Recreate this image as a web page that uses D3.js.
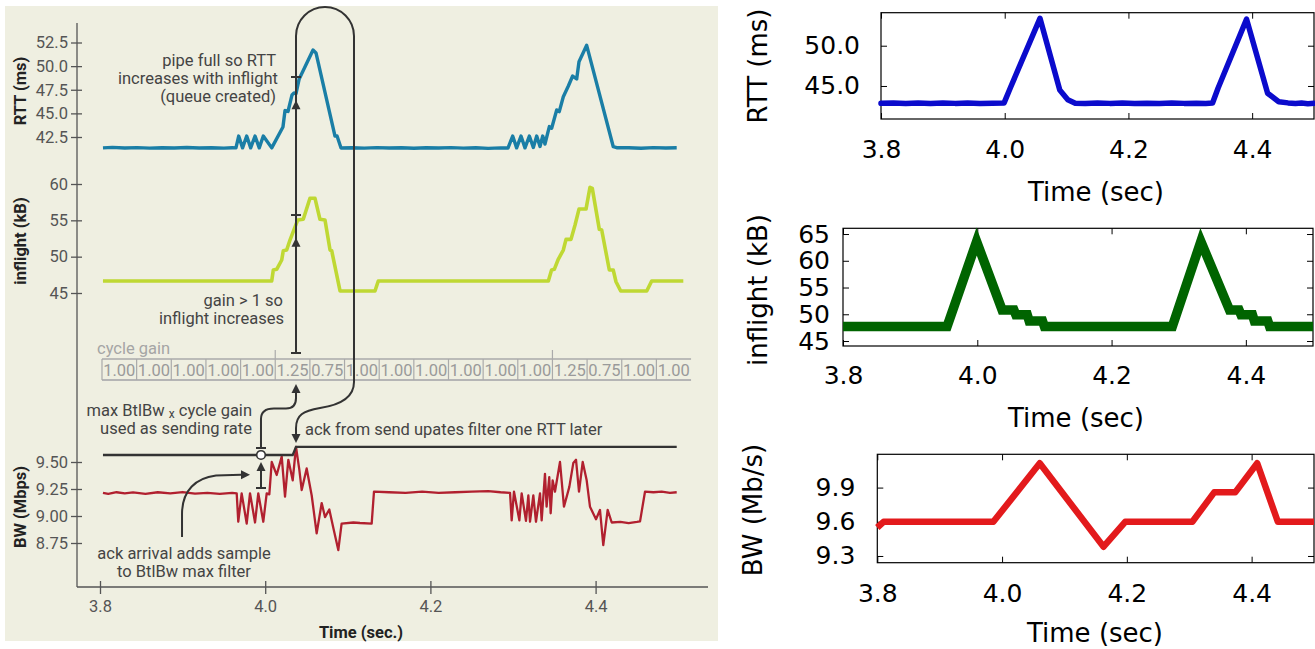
<!DOCTYPE html>
<html>
<head>
<meta charset="utf-8">
<script src="https://cdn.jsdelivr.net/npm/d3@7/dist/d3.min.js"></script>
<style>
html,body{margin:0;padding:0;background:#fff;}
svg{display:block;}
</style>
</head>
<body>
<svg id="chart" width="1315" height="649"></svg>
<script>
// ================= DATA =================
const timeTicks = [3.8, 4.0, 4.2, 4.4];

// ---- left (annotated) figure ----
const rttTicksL = [42.5, 45.0, 47.5, 50.0, 52.5];
const inflightTicksL = [45, 50, 55, 60];
const bwTicksL = [8.75, 9.00, 9.25, 9.50];

const rttL = [[3.8036,41.35],[3.815,41.40],[3.83,41.33],[3.845,41.38],[3.86,41.32],[3.875,41.37],[3.89,41.34],[3.905,41.39],[3.92,41.33],[3.935,41.37],[3.95,41.32],[3.96,41.36],
[3.9646,41.35],[3.9679,42.6],[3.9726,41.35],[3.9776,42.6],[3.9824,41.35],[3.9877,42.6],[3.9928,41.35],[3.9977,42.6],[4.0079,41.35],
[4.0215,43.56],[4.024,45.3],[4.0276,45.2],[4.0324,46.94],[4.0349,47.15],[4.0373,47.1],[4.041,48.6],[4.0579,51.7],[4.0615,51.4],[4.0845,42.6],[4.087,42.6],[4.0918,41.34],
[4.105,41.37],[4.12,41.32],[4.135,41.38],[4.15,41.33],[4.165,41.37],[4.18,41.31],[4.195,41.36],[4.21,41.33],[4.225,41.38],[4.24,41.32],[4.255,41.36],[4.27,41.30],[4.285,41.35],[4.2939,41.33],
[4.2996,42.6],[4.3044,41.35],[4.3097,42.6],[4.3145,41.35],[4.3198,42.6],[4.3246,41.4],[4.3287,42.6],[4.3327,41.5],[4.336,42.6],[4.3387,41.76],
[4.344,43.6],[4.3468,43.42],[4.3529,45.36],[4.356,45.18],[4.3609,46.76],[4.367,47.9],[4.3722,48.95],[4.3771,48.64],[4.3799,50.47],[4.3892,52.2],[4.4214,41.47],[4.4255,41.37],
[4.44,41.36],[4.455,41.31],[4.47,41.38],[4.485,41.33],[4.4982,41.36]];

const inflightL = [[3.8036,46.65],[4.0079,46.65],[4.0098,48.16],[4.0139,48.26],[4.02,49.54],[4.0219,50.82],[4.026,50.91],[4.03,52.29],[4.0393,55.04],[4.0461,55.14],[4.0542,58.03],[4.0603,58.03],[4.0663,55.14],[4.0724,55.04],[4.0785,50.91],[4.0805,50.82],[4.0906,45.28],[4.1329,45.28],[4.1369,46.65],[4.3428,46.65],[4.3467,48.16],[4.35,48.26],[4.3548,49.64],[4.3609,50.91],[4.3642,52.38],[4.3702,52.38],[4.3751,54.35],[4.3799,56.55],[4.3884,56.55],[4.3932,59.54],[4.396,59.4],[4.4045,53.76],[4.4074,53.67],[4.4166,48.16],[4.4214,48.16],[4.4247,46.55],[4.4304,45.28],[4.4619,45.28],[4.4679,46.65],[4.5062,46.65]];

const bwL = [[3.8036,9.215],[3.81,9.205],[3.82,9.22],[3.83,9.21],[3.84,9.218],[3.855,9.205],[3.87,9.22],[3.885,9.21],[3.9,9.222],[3.915,9.208],[3.93,9.215],[3.945,9.205],[3.96,9.215],[3.9655,9.21],
[3.9674,8.947],[3.9715,9.21],[3.9776,8.93],[3.9816,9.21],[3.9877,8.94],[3.9916,9.21],[3.9977,8.947],[4.0018,9.21],[4.005,9.2],
[4.0079,9.5],[4.0139,9.38],[4.02,9.55],[4.024,9.18],[4.028,9.52],[4.0333,9.33],[4.0373,9.64],[4.0413,9.43],[4.0442,9.24],[4.0502,9.44],[4.0563,9.19],[4.0623,8.84],[4.0684,9.12],[4.0724,8.99],[4.0776,9.06],[4.0825,8.89],[4.0885,8.685],[4.0925,8.93],[4.1067,8.94],[4.1148,8.935],[4.1289,8.93],[4.1317,9.225],
[4.15,9.22],[4.17,9.215],[4.19,9.225],[4.21,9.215],[4.23,9.22],[4.25,9.225],[4.27,9.23],[4.285,9.22],[4.2964,9.215],
[4.2984,8.96],[4.3012,9.225],[4.3077,8.96],[4.3105,9.21],[4.3157,8.955],[4.3186,9.19],[4.3206,8.947],[4.3246,9.19],[4.3278,8.947],[4.3327,9.21],[4.3347,8.96],[4.3387,9.39],[4.3407,9.086],[4.3439,9.36],[4.3456,9.025],[4.348,9.33],[4.3508,9.225],[4.3569,9.5],[4.3617,9.086],[4.3682,9.27],[4.373,9.49],[4.3763,9.52],[4.3799,9.225],[4.3844,9.5],[4.3892,9.33],[4.3932,9.086],[4.4005,8.97],[4.4053,9.056],[4.4093,8.73],[4.4146,9.056],[4.4195,8.94],[4.43,8.945],[4.44,8.935],[4.45,8.945],[4.4538,8.95],[4.4598,9.225],[4.47,9.22],[4.48,9.225],[4.49,9.215],[4.4982,9.22]];

const maxFilterL = [[3.8036,9.565],[4.0333,9.565],[4.0373,9.64],[4.4982,9.64]];

const cycleGains = ["1.00","1.00","1.00","1.00","1.00","1.25","0.75","1.00","1.00","1.00","1.00","1.00","1.00","1.25","0.75","1.00","1.00"];
const cycleStart = 3.8024, cycleLen = 0.04195;

// ---- right (measured) figures ----
const rttTicksR = [45.0, 50.0];
const inflightTicksR = [45, 50, 55, 60, 65];
const bwTicksR = [9.3, 9.6, 9.9];

const rttR = [[3.8,42.85],[3.82,42.9],[3.84,42.82],[3.86,42.88],[3.88,42.83],[3.9,42.9],[3.92,42.84],[3.94,42.88],[3.96,42.82],[3.98,42.87],[3.999,42.9],
[4.009,44.75],[4.057,53.4],[4.089,44.5],[4.102,43.3],[4.114,42.86],
[4.13,42.82],[4.15,42.9],[4.17,42.84],[4.19,42.88],[4.21,42.82],[4.23,42.87],[4.25,42.83],[4.27,42.9],[4.29,42.84],[4.31,42.86],[4.325,42.82],[4.336,42.88],
[4.345,44.75],[4.391,53.3],[4.425,44.1],[4.443,43.05],[4.458,42.9],[4.47,42.82],[4.48,42.88],[4.49,42.8],[4.5,42.85]];

const inflightR = [[3.8,47.7],[3.955,47.7],[3.999,63.6],[4.037,50.8],[4.0545,50.8],[4.0574,49.9],[4.0744,49.9],[4.0773,48.75],[4.0971,48.75],[4.1,47.7],[4.2905,47.7],[4.333,63.6],[4.3757,50.8],[4.3898,50.8],[4.3928,49.9],[4.4098,49.9],[4.4127,48.75],[4.4326,48.75],[4.4354,47.7],[4.5,47.7]];

const bwR = [[3.8,9.55],[3.81,9.6],[3.986,9.6],[4.0604,10.113],[4.1627,9.381],[4.1974,9.6],[4.305,9.6],[4.34,9.858],[4.3737,9.858],[4.409,10.113],[4.442,9.6],[4.5,9.6]];

// ================= DRAW =================
const svg = d3.select('#chart');
const LF = "Roboto, 'Open Sans', sans-serif";
const RF = "'DejaVu Sans', Verdana, sans-serif";

// ---------- Left figure ----------
svg.append('rect').attr('x',5).attr('y',6).attr('width',713).attr('height',635).attr('fill','#efefe1');

const xL = d3.scaleLinear().domain([3.8, 4.5]).range([100, 678.2]);
const yR = d3.scaleLinear().domain([42.5, 52.5]).range([137, 42.5]);
const yI = d3.scaleLinear().domain([45, 60]).range([293, 184]);
const yB = d3.scaleLinear().domain([8.75, 9.5]).range([543, 462]);

const L = svg.append('g');
L.append('line').attr('x1',77).attr('x2',77).attr('y1',23).attr('y2',587).attr('stroke','#555').attr('stroke-width',1.3);
L.append('line').attr('x1',77).attr('x2',708).attr('y1',587).attr('y2',587).attr('stroke','#555').attr('stroke-width',1.3);

function leftAxis(scale, ticks, fmt) {
  const g = L.append('g').attr('transform','translate(82,0)')
    .call(d3.axisLeft(scale).tickValues(ticks).tickFormat(fmt).tickSize(11).tickPadding(3));
  g.select('.domain').remove();
  g.attr('font-family', LF).attr('font-size', 16.5);
  g.selectAll('line').attr('stroke','#555').attr('stroke-width',1.3);
  g.selectAll('text').attr('fill','#555');
}
leftAxis(yR, rttTicksL, d3.format('.1f'));
leftAxis(yI, inflightTicksL, d3.format('d'));
leftAxis(yB, bwTicksL, d3.format('.2f'));

const gx = L.append('g').attr('transform','translate(0,581)')
  .call(d3.axisBottom(xL).tickValues(timeTicks).tickFormat(d3.format('.1f')).tickSize(13).tickPadding(6));
gx.select('.domain').remove();
gx.attr('font-family', LF).attr('font-size', 16.5);
gx.selectAll('line').attr('stroke','#555').attr('stroke-width',1.3);
gx.selectAll('text').attr('fill','#555');

function vTitle(g, text, x, y, size, weight, fill, family) {
  g.append('text').attr('transform',`translate(${x},${y}) rotate(-90)`)
    .attr('text-anchor','middle').attr('dominant-baseline','central')
    .attr('font-family',family).attr('font-size',size).attr('font-weight',weight).attr('fill',fill).text(text);
}
vTitle(L, 'RTT (ms)', 20, 91, 16.5, 'bold', '#222', LF);
vTitle(L, 'inflight (kB)', 20, 241, 16.5, 'bold', '#222', LF);
vTitle(L, 'BW (Mbps)', 20, 507, 16.5, 'bold', '#222', LF);
L.append('text').attr('x',361).attr('y',632).attr('text-anchor','middle').attr('dominant-baseline','central')
  .attr('font-family',LF).attr('font-size',16.5).attr('font-weight','bold').attr('fill','#222').text('Time (sec.)');

// cycle gain box
const boxTop = 359, boxBot = 380;
const cellX = i => xL(cycleStart + i * cycleLen);
L.append('text').attr('x',97).attr('y',348).attr('dominant-baseline','central')
  .attr('font-family',LF).attr('font-size',16.5).attr('fill','#a5a5a5').text('cycle gain');
L.append('line').attr('x1',cellX(0)).attr('x2',cellX(cycleGains.length)).attr('y1',boxTop).attr('y2',boxTop).attr('stroke','#aaa').attr('stroke-width',1.3);
L.append('line').attr('x1',cellX(0)).attr('x2',cellX(cycleGains.length)).attr('y1',boxBot).attr('y2',boxBot).attr('stroke','#b5b5b5').attr('stroke-width',2);
const cells = L.append('g').selectAll('g').data(cycleGains).join('g');
cells.append('line').attr('x1',(d,i)=>cellX(i)).attr('x2',(d,i)=>cellX(i))
  .attr('y1',(d,i)=> d==='1.25' ? 350 : boxTop).attr('y2',boxBot).attr('stroke','#aaa').attr('stroke-width',1.2);
cells.append('text').attr('x',(d,i)=>(cellX(i)+cellX(i+1))/2).attr('y',370)
  .attr('text-anchor','middle').attr('dominant-baseline','central')
  .attr('font-family',LF).attr('font-size',16.5).attr('fill','#9a9a9a').text(d=>d);

// data lines
const lineGen = (xs, ys) => d3.line().x(d=>xs(d[0])).y(d=>ys(d[1]));
L.append('path').datum(rttL).attr('d', lineGen(xL,yR)).attr('fill','none').attr('stroke','#1a7ea6').attr('stroke-width',3.4).attr('stroke-linejoin','round');
L.append('path').datum(inflightL).attr('d', lineGen(xL,yI)).attr('fill','none').attr('stroke','#bfd833').attr('stroke-width',3.6).attr('stroke-linejoin','round');
L.append('path').datum(bwL).attr('d', lineGen(xL,yB)).attr('fill','none').attr('stroke','#b1202f').attr('stroke-width',2.3).attr('stroke-linejoin','round');
L.append('path').datum(maxFilterL).attr('d', lineGen(xL,yB)).attr('fill','none').attr('stroke','#333').attr('stroke-width',2.3);

// annotations
const A = svg.append('g');
const ink = '#333';
const ax = xL(4.0373), lx = xL(4.1075), cx = xL(3.9949), ackX = xL(3.8993);
function bar(x, y) { A.append('line').attr('x1',x-5).attr('x2',x+5).attr('y1',y).attr('y2',y).attr('stroke',ink).attr('stroke-width',2); }
function head(x, y, dir) {
  const l = 9, w = 4.5;
  let p;
  if (dir==='up') p = [[x,y],[x-w,y+l],[x+w,y+l]];
  else if (dir==='down') p = [[x,y],[x-w,y-l],[x+w,y-l]];
  else p = [[x,y],[x-l,y-w],[x-l,y+w]];
  A.append('path').attr('d','M'+p.map(q=>q.join(',')).join('L')+'Z').attr('fill',ink);
}
const pathS = d => A.append('path').attr('d',d).attr('fill','none').attr('stroke',ink).attr('stroke-width',2);

const yBarRtt = yR(48.85), yTipRtt = yR(46.4), yBarInf = yI(55.73), yTipInf = yI(52.6), yBarGain = boxTop - 6;
const r = (lx - ax) / 2, arcTop = 7, arcY = arcTop + r;
pathS(`M${ax},${yBarGain} L${ax},${arcY} A${r},${r} 0 0 1 ${lx},${arcY} L${lx},${boxBot+2} C${lx},398 340,405 320,408 C303,411 ${ax},415 ${ax},428 L${ax},436`);
head(ax, 443, 'down');
bar(ax, yBarRtt); bar(ax, yBarInf); bar(ax, yBarGain);
head(ax, yTipRtt, 'up'); head(ax, yTipInf, 'up');

const yMax = yB(9.565);
pathS(`M${cx},448 L${cx},419 C${cx},411 266,408.5 274,408.5 L286,408.5 C292,408.5 ${ax},405 ${ax},398 L${ax},392`);
head(ax, 384, 'up');
bar(cx, 448);
pathS(`M${cx},488 L${cx},470`);
head(cx, 462, 'up');
bar(cx, 488);
A.append('circle').attr('cx',cx).attr('cy',yMax).attr('r',4.3).attr('fill','#fff').attr('stroke',ink).attr('stroke-width',1.6);
pathS(`M${ackX},537 L${ackX},514 C${ackX},490 196,478 216,475.5 L241,474.8`);
head(250, 474.8, 'right');

const AF = 16.5;
function txt(x, y, s, anchor) {
  return A.append('text').attr('x',x).attr('y',y).attr('text-anchor',anchor).attr('dominant-baseline','central')
    .attr('font-family',LF).attr('font-size',AF).attr('fill','#444').text(s);
}
txt(276, 60, 'pipe full so RTT', 'end');
txt(278, 78, 'increases with inflight', 'end');
txt(276, 96, '(queue created)', 'end');
txt(283, 300, 'gain > 1 so', 'end');
txt(284, 318, 'inflight increases', 'end');
const t1 = A.append('text').attr('x',252).attr('y',410).attr('text-anchor','end').attr('dominant-baseline','central')
  .attr('font-family',LF).attr('font-size',AF).attr('fill','#444');
t1.append('tspan').text('max BtlBw ');
t1.append('tspan').attr('font-size',12).attr('dy',4).text('x');
t1.append('tspan').attr('dy',-4).text(' cycle gain');
txt(252, 428, 'used as sending rate', 'end');
txt(305, 429, 'ack from send upates filter one RTT later', 'start');
txt(184, 553, 'ack arrival adds sample', 'middle');
txt(184, 571, 'to BtlBw max filter', 'middle');

// ---------- Right figures ----------
function rightPanel(c) {
  const g = svg.append('g');
  const [x0,x1] = c.xs.range(), [y1,y0] = c.ys.range();
  const b = g.append('g').attr('transform',`translate(0,${y1})`)
    .call(d3.axisBottom(c.xs).tickValues(timeTicks).tickFormat(d3.format('.1f')).tickSize(-6).tickPadding(c.xpad));
  const t = g.append('g').attr('transform',`translate(0,${y0})`)
    .call(d3.axisTop(c.xs).tickValues(timeTicks).tickFormat('').tickSize(-6));
  const l = g.append('g').attr('transform',`translate(${x0},0)`)
    .call(d3.axisLeft(c.ys).tickValues(c.yTicks).tickFormat(c.yFmt).tickSize(-6).tickPadding(c.ypad));
  const rr = g.append('g').attr('transform',`translate(${x1},0)`)
    .call(d3.axisRight(c.ys).tickValues(c.yTicks).tickFormat('').tickSize(-6));
  [b,t,l,rr].forEach(a => {
    a.select('.domain').remove();
    a.attr('font-family', RF).attr('font-size', 25);
    a.selectAll('line').attr('stroke','#000').attr('stroke-width',1);
    a.selectAll('text').attr('fill','#000');
  });
  g.append('rect').attr('x',x0).attr('y',y0).attr('width',x1-x0).attr('height',y1-y0)
    .attr('fill','none').attr('stroke','#000').attr('stroke-width',1.2);
  g.append('path').datum(c.data).attr('d', lineGen(c.xs, c.ys)).attr('fill','none')
    .attr('stroke',c.color).attr('stroke-width',c.width).attr('stroke-linejoin',c.join).attr('stroke-linecap',c.cap);
  vTitle(g, c.ylab, c.ylabX, c.ylabY, 26, 'normal', '#000', RF);
  g.append('text').attr('x',c.xlabX).attr('y',c.xlabY).attr('text-anchor','middle').attr('dominant-baseline','central')
    .attr('font-family',RF).attr('font-size',26).attr('fill','#000').text('Time (sec)');
}

rightPanel({xs: d3.scaleLinear().domain([3.8,4.5]).range([881,1314]),
  ys: d3.scaleLinear().domain([40.9,54.1]).range([119,12.7]),
  yTicks: rttTicksR, yFmt: d3.format('.1f'), data: rttR, color:'#0b0bcc', width:5.5, join:'round', cap:'round',
  xpad:21, ypad:21, ylab:'RTT (ms)', ylabX:758, ylabY:66, xlabX:1096, xlabY:192});
rightPanel({xs: d3.scaleLinear().domain([3.8,4.5]).range([843,1313]),
  ys: d3.scaleLinear().domain([44.07,66.07]).range([346,228.3]),
  yTicks: inflightTicksR, yFmt: d3.format('d'), data: inflightR, color:'#006400', width:9.5, join:'miter', cap:'butt',
  xpad:20, ypad:13, ylab:'inflight (kB)', ylabX:758, ylabY:290, xlabX:1076, xlabY:418});
rightPanel({xs: d3.scaleLinear().domain([3.8,4.5]).range([877.3,1314]),
  ys: d3.scaleLinear().domain([9.241,10.192]).range([562.7,454.3]),
  yTicks: bwTicksR, yFmt: d3.format('.1f'), data: bwR, color:'#e31a1c', width:6.5, join:'round', cap:'butt',
  xpad:22, ypad:22, ylab:'BW (Mb/s)', ylabX:753, ylabY:510, xlabX:1095, xlabY:633});
</script>
</body>
</html>
